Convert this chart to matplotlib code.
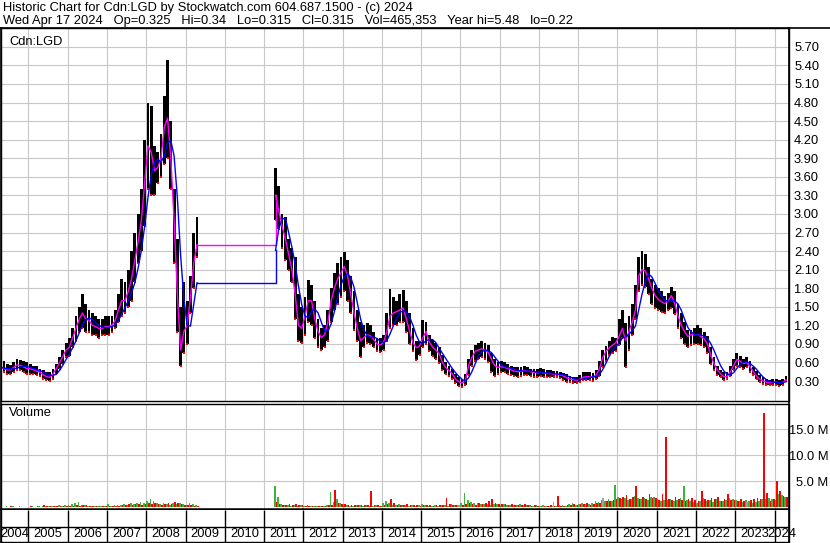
import numpy as np
import pandas as pd
import matplotlib
matplotlib.use("Agg")
import matplotlib.pyplot as plt
from matplotlib.lines import Line2D

plt.rcParams['font.family'] = ['Liberation Sans', 'DejaVu Sans']
FS = 9.3

title_1 = "Historic Chart for Cdn:LGD by Stockwatch.com 604.687.1500 - (c) 2024"
title_2 = ("Wed Apr 17 2024   Op=0.325   Hi=0.34   Lo=0.315   Cl=0.315   "
           "Vol=465,353   Year hi=5.48   lo=0.22")
symbol = "Cdn:LGD"

# monthly high / low / average, first block Apr 2004 - Apr 2009
seg1_start = "2004-04"
hi1 = [0.62, 0.62, 0.58, 0.56, 0.60, 0.66, 0.64, 0.62, 0.60,
       0.58, 0.55, 0.54, 0.50, 0.48, 0.44, 0.44, 0.50, 0.58, 0.68, 0.80, 0.92,
       1.00, 1.15, 1.35, 1.50, 1.70, 1.55, 1.45, 1.40, 1.35, 1.30, 1.30, 1.35,
       1.35, 1.35, 1.45, 1.70, 1.95, 1.90, 2.10, 2.40, 2.70, 3.00, 3.40, 4.20,
       4.80, 4.75, 4.10, 4.00, 4.30, 4.90, 5.48, 4.50, 3.40, 2.60, 1.50, 1.90,
       1.60, 2.00, 2.70, 2.95]
lo1 = [0.45, 0.44, 0.42, 0.42, 0.44, 0.48, 0.48, 0.45, 0.42,
       0.42, 0.42, 0.40, 0.38, 0.34, 0.31, 0.30, 0.34, 0.42, 0.50, 0.58, 0.68,
       0.70, 0.85, 0.95, 1.10, 1.15, 1.10, 1.10, 1.05, 1.05, 1.00, 1.05, 1.05,
       1.05, 1.10, 1.15, 1.25, 1.35, 1.40, 1.50, 1.60, 1.90, 2.20, 2.40, 2.80,
       3.40, 3.30, 3.30, 3.50, 3.60, 3.80, 3.90, 3.40, 2.20, 1.10, 0.55, 0.75,
       0.90, 1.40, 1.80, 2.30]
avg1 = [0.52, 0.50, 0.48, 0.48, 0.52, 0.56, 0.55, 0.53, 0.50,
        0.50, 0.48, 0.46, 0.44, 0.40, 0.37, 0.36, 0.42, 0.50, 0.60, 0.70, 0.80,
        0.85, 1.00, 1.15, 1.30, 1.40, 1.30, 1.28, 1.20, 1.18, 1.15, 1.15, 1.18,
        1.18, 1.20, 1.28, 1.45, 1.60, 1.60, 1.75, 1.95, 2.25, 2.55, 2.90, 3.50,
        4.10, 4.00, 3.70, 3.75, 3.90, 4.40, 4.55, 3.90, 2.90, 1.70, 0.80, 1.10,
        1.20, 1.65, 2.20, 2.50]

# second block Apr 2011 - Apr 2024 (trading halted in between)
seg2_start = "2011-04"
hi2 = [3.75, 3.45, 3.00, 2.95, 2.60, 2.45, 2.30, 1.70, 1.50,
       1.65, 1.93, 1.85, 1.60, 1.30, 1.15, 1.20, 1.45, 1.80, 2.05, 2.20, 2.30,
       2.38, 2.25, 2.00, 1.75, 1.45, 1.25, 1.20, 1.24, 1.20, 1.10, 1.00, 1.00,
       1.05, 1.40, 1.78, 1.65, 1.60, 1.70, 1.77, 1.60, 1.40, 1.15, 0.95, 0.95,
       1.28, 1.25, 1.05, 0.96, 0.92, 0.85, 0.72, 0.60, 0.55, 0.50, 0.42, 0.36,
       0.34, 0.42, 0.65, 0.80, 0.88, 0.92, 0.95, 0.92, 0.88, 0.75, 0.65, 0.60,
       0.62, 0.60, 0.58, 0.55, 0.53, 0.52, 0.52, 0.54, 0.53, 0.50, 0.50, 0.49,
       0.51, 0.49, 0.48, 0.47, 0.46, 0.46, 0.45, 0.43, 0.41, 0.38, 0.37, 0.36,
       0.40, 0.45, 0.45, 0.44, 0.43, 0.48, 0.62, 0.80, 0.86, 0.95, 1.01, 1.00,
       1.30, 1.45, 1.24, 1.35, 1.55, 1.85, 2.30, 2.40, 2.35, 2.15, 1.95, 1.85,
       1.80, 1.75, 1.68, 1.72, 1.82, 1.75, 1.55, 1.40, 1.25, 1.12, 1.12, 1.15,
       1.20, 1.15, 1.10, 1.02, 0.85, 0.68, 0.55, 0.48, 0.44, 0.45, 0.55, 0.65,
       0.75, 0.70, 0.65, 0.68, 0.62, 0.52, 0.46, 0.40, 0.36, 0.33, 0.32, 0.33,
       0.33, 0.31, 0.34, 0.38]
lo2 = [2.90, 2.75, 2.45, 2.25, 2.10, 1.90, 1.30, 0.95, 0.92,
       1.05, 1.25, 1.20, 1.00, 0.85, 0.80, 0.85, 0.95, 1.25, 1.45, 1.55, 1.65,
       1.75, 1.60, 1.40, 1.12, 0.95, 0.69, 0.85, 0.91, 0.90, 0.85, 0.78, 0.77,
       0.80, 0.95, 1.15, 1.20, 1.20, 1.25, 1.25, 1.10, 0.90, 0.78, 0.64, 0.72,
       0.85, 0.90, 0.78, 0.70, 0.65, 0.59, 0.48, 0.42, 0.38, 0.34, 0.26, 0.22,
       0.20, 0.24, 0.40, 0.55, 0.62, 0.65, 0.68, 0.65, 0.60, 0.45, 0.38, 0.42,
       0.45, 0.44, 0.42, 0.40, 0.38, 0.37, 0.38, 0.40, 0.40, 0.38, 0.37, 0.36,
       0.38, 0.37, 0.36, 0.36, 0.36, 0.36, 0.35, 0.32, 0.29, 0.28, 0.27, 0.27,
       0.28, 0.32, 0.32, 0.31, 0.30, 0.33, 0.38, 0.52, 0.62, 0.72, 0.75, 0.78,
       0.88, 1.00, 0.52, 0.80, 1.05, 1.30, 1.75, 1.85, 1.82, 1.70, 1.55, 1.48,
       1.45, 1.42, 1.40, 1.45, 1.48, 1.38, 1.15, 1.00, 0.90, 0.85, 0.88, 0.90,
       0.90, 0.88, 0.85, 0.75, 0.58, 0.48, 0.40, 0.36, 0.32, 0.33, 0.38, 0.48,
       0.55, 0.52, 0.50, 0.52, 0.45, 0.40, 0.33, 0.28, 0.25, 0.23, 0.23, 0.24,
       0.24, 0.22, 0.24, 0.30]
avg2 = [3.30, 3.05, 2.80, 2.60, 2.35, 2.10, 1.70, 1.20, 1.15,
        1.35, 1.60, 1.60, 1.30, 1.10, 1.00, 1.05, 1.25, 1.60, 1.80, 1.95, 2.05,
        2.15, 2.00, 1.70, 1.40, 1.15, 0.95, 1.00, 1.05, 1.03, 0.97, 0.90, 0.88,
        0.92, 1.10, 1.35, 1.40, 1.42, 1.45, 1.48, 1.30, 1.10, 0.92, 0.84, 0.86,
        1.00, 1.10, 0.93, 0.85, 0.80, 0.74, 0.60, 0.52, 0.47, 0.42, 0.33, 0.29,
        0.27, 0.30, 0.55, 0.68, 0.78, 0.80, 0.82, 0.80, 0.76, 0.65, 0.55, 0.52,
        0.53, 0.52, 0.50, 0.48, 0.46, 0.45, 0.46, 0.47, 0.46, 0.45, 0.44, 0.43,
        0.44, 0.43, 0.42, 0.42, 0.41, 0.41, 0.40, 0.38, 0.35, 0.33, 0.32, 0.31,
        0.33, 0.36, 0.37, 0.37, 0.36, 0.40, 0.50, 0.68, 0.78, 0.84, 0.88, 0.92,
        1.02, 1.15, 0.95, 1.10, 1.25, 1.45, 2.00, 2.10, 2.08, 1.95, 1.80, 1.68,
        1.62, 1.58, 1.55, 1.60, 1.68, 1.55, 1.35, 1.20, 1.10, 1.02, 1.05, 1.05,
        1.05, 1.02, 0.98, 0.90, 0.72, 0.58, 0.48, 0.42, 0.37, 0.37, 0.45, 0.55,
        0.65, 0.62, 0.58, 0.60, 0.53, 0.45, 0.38, 0.33, 0.30, 0.28, 0.27, 0.28,
        0.28, 0.27, 0.28, 0.32]

# biggest up-day and down-day volume of each month, millions
vol_up1 = [0.2, 0.1, 0.15, 0.1, 0.2, 0.1, 0.15, 0.05, 0.1,
           0.1, 0.15, 0.1, 0.2, 0.3, 0.25, 0.3, 0.3, 0.2, 0.35, 0.3, 0.4,
           0.5, 0.6, 0.8, 1.0, 0.5, 0.4, 0.3, 0.2, 0.3, 0.2, 0.25, 0.2,
           0.7, 0.3, 0.4, 0.5, 0.4, 0.6, 0.5, 0.8, 0.7, 0.9, 1.0, 0.9,
           1.2, 1.5, 1.1, 0.8, 0.7, 0.9, 0.6, 0.5, 0.8, 0.6, 0.9, 0.7,
           0.5, 0.8, 0.6, 0.4]
vol_dn1 = [0.1, 0.05, 0.1, 0.2, 0.05, 0.1, 0.05, 0.1, 0.05,
           0.2, 0.1, 0.3, 0.1, 0.4, 0.2, 0.3, 0.2, 0.3, 0.2, 0.2, 0.3,
           0.3, 0.2, 0.4, 0.3, 0.5, 0.4, 0.3, 0.2, 0.2, 0.3, 0.2, 0.2,
           0.3, 0.2, 0.3, 0.2, 0.5, 0.4, 0.6, 0.5, 0.6, 0.7, 0.5, 0.6,
           0.8, 0.7, 0.9, 0.6, 0.5, 0.6, 0.8, 0.7, 1.0, 0.9, 0.6, 0.5,
           0.4, 0.5, 0.3, 0.3]
vol_up2 = [4.0, 1.9, 0.6, 0.4, 0.5, 0.3, 0.4, 0.3, 0.5,
           0.3, 0.4, 0.3, 0.2, 0.3, 0.2, 0.3, 0.4, 2.9, 1.0, 1.6, 0.8,
           0.6, 0.4, 0.3, 0.3, 0.4, 0.5, 0.3, 0.4, 0.3, 0.3, 0.4, 0.3,
           0.9, 1.2, 0.8, 0.5, 0.4, 0.6, 0.5, 0.4, 0.3, 0.4, 0.3, 0.4,
           0.6, 0.4, 0.3, 0.3, 0.4, 0.3, 0.5, 0.4, 0.3, 0.6, 0.4, 0.5,
           0.8, 2.7, 1.4, 1.0, 0.9, 0.8, 0.7, 0.6, 0.6, 0.5, 0.7, 0.6,
           0.5, 0.6, 0.4, 0.5, 0.4, 0.5, 0.6, 0.4, 0.5, 0.4, 0.3, 0.4,
           0.3, 0.4, 0.3, 0.3, 0.2, 0.3, 0.4, 0.5, 0.3, 0.6, 0.8, 0.5,
           0.6, 0.8, 0.7, 0.6, 0.9, 1.2, 1.0, 1.3, 1.1, 1.5, 1.2, 4.3,
           2.0, 1.5, 1.8, 1.4, 1.6, 2.2, 1.8, 1.5, 1.7, 1.3, 2.0, 1.9,
           1.5, 1.2, 1.4, 1.3, 1.6, 1.2, 1.4, 1.8, 4.0, 1.3, 1.1, 1.0,
           0.9, 1.2, 1.7, 1.1, 1.3, 1.0, 1.5, 1.2, 1.1, 1.4, 1.7, 1.6,
           1.3, 1.2, 1.0, 1.4, 1.1, 0.9, 1.0, 1.2, 1.5, 1.6, 1.8, 1.5,
           1.4, 2.5, 2.3, 1.9]
vol_dn2 = [1.0, 0.6, 0.5, 0.4, 0.6, 0.5, 0.6, 0.5, 0.4,
           0.3, 0.3, 0.2, 0.3, 0.2, 0.3, 0.2, 0.4, 0.5, 3.3, 0.9, 0.7,
           0.6, 0.5, 0.4, 0.5, 0.4, 0.5, 0.4, 0.5, 3.1, 0.4, 0.4, 0.3,
           0.5, 0.7, 1.5, 0.9, 0.5, 0.4, 0.5, 0.6, 0.4, 0.5, 0.4, 0.3,
           0.4, 0.5, 0.4, 0.3, 0.5, 0.4, 0.4, 1.7, 0.6, 0.4, 0.5, 0.3,
           0.5, 0.7, 0.8, 0.6, 0.5, 0.9, 0.7, 0.8, 1.2, 1.5, 0.8, 0.6,
           0.7, 0.6, 0.5, 0.6, 0.4, 0.5, 0.5, 0.6, 0.4, 0.3, 0.4, 0.3,
           0.3, 0.2, 0.3, 0.4, 0.3, 2.2, 0.2, 0.3, 0.5, 0.4, 0.6, 0.5,
           0.7, 0.6, 0.8, 0.5, 0.7, 0.9, 0.8, 1.0, 1.2, 1.1, 1.3, 1.5,
           1.8, 2.0, 2.4, 1.6, 1.9, 4.1, 1.5, 1.9, 1.6, 2.5, 1.7, 1.8,
           1.4, 2.6, 13.5, 1.5, 1.3, 2.0, 1.6, 1.4, 1.2, 1.5, 1.7, 1.3,
           1.2, 3.2, 1.5, 1.4, 1.8, 1.6, 1.9, 1.2, 1.5, 2.6, 1.4, 1.3,
           1.1, 1.5, 1.2, 1.0, 1.3, 1.6, 1.8, 1.5, 18.1, 2.8, 1.2, 1.5,
           5.0, 3.1, 2.2, 2.0]
# unchanged-close days (grey bars)
flat_months = ["2015-12", "2018-05", "2019-08", "2023-04"]
flat_vol = [0.5, 1.0, 1.8, 1.0]

price_ticks = [0.30, 0.60, 0.90, 1.20, 1.50, 1.80, 2.10, 2.40, 2.70, 3.00,
               3.30, 3.60, 3.90, 4.20, 4.50, 4.80, 5.10, 5.40, 5.70]
vol_ticks = [5, 10, 15]
years = list(range(2004, 2025))


def month_mid(periods):
    p = pd.PeriodIndex(periods, freq="M")
    return np.asarray(p.year + (p.month - 0.5) / 12.0, dtype=float)


t1 = month_mid(pd.period_range(seg1_start, periods=len(hi1), freq="M"))
t2 = month_mid(pd.period_range(seg2_start, periods=len(hi2), freq="M"))
t = np.concatenate([t1, t2])
n1 = len(t1)
hi = np.array(hi1 + hi2)
lo = np.array(lo1 + lo2)
ma_fast = np.array(avg1 + avg2)
ma_slow = pd.Series(ma_fast).rolling(4, min_periods=1).mean().values
vol_up = np.array(vol_up1 + vol_up2)
vol_dn = np.array(vol_dn1 + vol_dn2)
t_flat = month_mid(flat_months)

W, H = 830, 543
X0, X1 = 2004.30, 2024.356
grid_c = "#C8C8C8"
bw = 1 / 24  # half a month

fig = plt.figure(figsize=(W / 100, H / 100), dpi=100)


def box(x0, y0, x1, y1):
    # pixel box -> figure fraction
    return [x0 / W, 1 - y1 / H, (x1 - x0) / W, (y1 - y0) / H]


ax = fig.add_axes(box(1, 28, 788.5, 401))
axv = fig.add_axes(box(1, 403.5, 788.5, 509))
axy = fig.add_axes(box(1, 510, 788.5, 542))

# price panel
ax.bar(t, hi - lo, bottom=lo, width=0.072, color="black", linewidth=0, zorder=2)
ax.scatter(t, lo, s=2.5, marker="s", color="red", linewidths=0, zorder=3)
for ma, col in [(ma_fast, "#FF00FF"), (ma_slow, "#0000FF")]:
    ax.plot(t[:n1], ma[:n1], color=col, lw=1.0, zorder=4)
    ax.plot(t[n1:], ma[n1:], color=col, lw=1.0, zorder=4)
    ax.plot(t[n1 - 1:n1 + 1], ma[n1 - 1:n1 + 1], color=col, lw=1.0,
            drawstyle="steps-post", zorder=4)
ax.set_ylim(-0.023, 6.005)
ax.set_yticks(price_ticks)
ax.set_yticklabels([f"{v:.2f}" for v in price_ticks])

# volume panel
axv.bar(t - bw / 2, vol_up, width=bw, color="#3CB43C", linewidth=0, zorder=2)
axv.bar(t + bw / 2, vol_dn, width=bw, color="#FF0000", linewidth=0, zorder=2)
axv.bar(t_flat, flat_vol, width=bw, color="#A0A0A0", linewidth=0, zorder=2)
axv.set_ylim(-0.35, 20.0)
axv.set_yticks(vol_ticks)
axv.set_yticklabels([f"{v:.1f} M" for v in vol_ticks])

for a in (ax, axv):
    a.set_xlim(X0, X1)
    a.set_xticks(years[1:])
    a.grid(True, color=grid_c, lw=0.8)
    a.set_axisbelow(True)
    a.tick_params(axis="x", length=0, labelbottom=False)
    a.tick_params(axis="y", left=False, right=False, labelleft=False,
                  labelright=True, length=0, labelsize=FS)
    for s in a.spines.values():
        s.set_color("black")
        s.set_linewidth(1.0)
ax.tick_params(axis="y", pad=4)
axv.tick_params(axis="y", pad=28.5)
for lab in axv.get_yticklabels():
    lab.set_horizontalalignment("right")
axv.spines["bottom"].set_linewidth(1.8)

# year strip
axy.set_xlim(X0, X1)
axy.set_ylim(0, 1)
axy.vlines(years[1:], 0, 1, color="black", lw=1.0)
axy.axhline(0.47, color="black", lw=1.0)
axy.set_xticks([])
axy.set_yticks([])
axy.spines["top"].set_visible(False)
for s in ["left", "right", "bottom"]:
    axy.spines[s].set_color("black")
    axy.spines[s].set_linewidth(1.0)
for y in years:
    a0, a1 = max(y, X0), min(y + 1, X1)
    axy.text((a0 + a1) / 2, 0.235, str(y), ha="center", va="center",
             fontsize=FS, clip_on=False)

# frame lines
fig.add_artist(Line2D([0, 1], [1 - 27.5 / H] * 2, color="black", lw=1.2))
fig.add_artist(Line2D([788.5 / W] * 2, [1 - 27.5 / H, 0], color="black", lw=1.2))
fig.add_artist(Line2D([0.6 / W] * 2, [1 - 27.5 / H, 0], color="black", lw=1.2))

fig.text(3 / W, 1 - 8 / H, title_1, fontsize=FS, va="center")
fig.text(3 / W, 1 - 21 / H, title_2, fontsize=FS, va="center")
fig.text(9 / W, 1 - 42 / H, symbol, fontsize=FS, va="center")
fig.text(9 / W, 1 - 413 / H, "Volume", fontsize=FS, va="center")

fig.savefig("out.png", dpi=100)
